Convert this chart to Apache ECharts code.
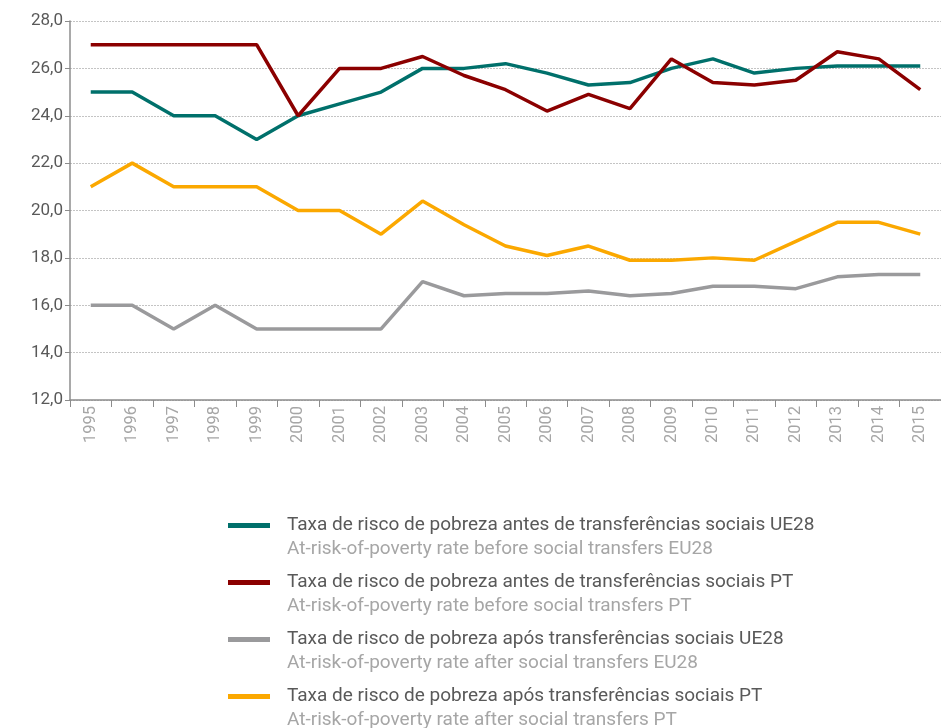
<!DOCTYPE html>
<html>
<head>
<meta charset="utf-8">
<script src="https://cdn.jsdelivr.net/npm/echarts@6/dist/echarts.min.js"></script>
<style>html,body{margin:0;padding:0;background:#fff}#c{width:941px;height:728px}</style>
</head>
<body>
<div id="c"></div>
<script>
var years = ['1995','1996','1997','1998','1999','2000','2001','2002','2003','2004','2005','2006','2007','2008','2009','2010','2011','2012','2013','2014','2015'];
var euBefore = [25,25,24,24,23,24,24.5,25,26,26,26.2,25.8,25.3,25.4,26.0,26.4,25.8,26.0,26.1,26.1,26.1];
var ptBefore = [27,27,27,27,27,24,26,26,26.5,25.7,25.1,24.2,24.9,24.3,26.4,25.4,25.3,25.5,26.7,26.4,25.1];
var euAfter = [16,16,15,16,15,15,15,15,17,16.4,16.5,16.5,16.6,16.4,16.5,16.8,16.8,16.7,17.2,17.3,17.3];
var ptAfter = [21,22,21,21,21,20,20,19,20.4,19.4,18.5,18.1,18.5,17.9,17.9,18.0,17.9,18.7,19.5,19.5,19.0];
var namesPT = ['Taxa de risco de pobreza antes de transferências sociais UE28','Taxa de risco de pobreza antes de transferências sociais PT','Taxa de risco de pobreza após transferências sociais UE28','Taxa de risco de pobreza após transferências sociais PT'];
var namesEN = ['At-risk-of-poverty rate before social transfers EU28','At-risk-of-poverty rate before social transfers PT','At-risk-of-poverty rate after social transfers EU28','At-risk-of-poverty rate after social transfers PT'];
var colors = ['#00706B','#8B0000','#9A9A9C','#FBA800'];
var seriesData = [euBefore, ptBefore, euAfter, ptAfter];

var chart = echarts.init(document.getElementById('c'));
var series = seriesData.map(function(d,i){
  return {name:namesPT[i], type:'line', data:d, symbol:'none', smooth:false,
    color:colors[i], lineStyle:{width:3.5,color:colors[i]}, z: (i===1?4:3)};
});
chart.setOption({
  animation:false,
  backgroundColor:'#fff',
  grid:{left:70,right:-9,top:21,bottom:328,containLabel:false},
  xAxis:{type:'category',data:years,boundaryGap:true,
    axisLine:{lineStyle:{color:'#8c8c8c',width:1.5}},
    axisTick:{show:true,length:7,lineStyle:{color:'#8c8c8c'}},
    axisLabel:{rotate:90,color:'#a6a6a6',fontSize:16.5,fontFamily:'Roboto',margin:6,interval:0},
    splitLine:{show:false}},
  yAxis:{type:'value',min:12,max:28,interval:2,
    axisLine:{show:true,lineStyle:{color:'#8c8c8c',width:1.5}},
    axisTick:{show:true,length:5,lineStyle:{color:'#8c8c8c'}},
    axisLabel:{color:'#595959',fontSize:17,fontFamily:'Roboto',margin:7,
      formatter:function(v){return v.toFixed(1).replace('.',',');}},
    splitLine:{show:true,lineStyle:{color:'#c4c4c4',width:1,type:[2,1]}}},
  legend:{orient:'vertical',left:228,top:516,height:300,padding:0,itemGap:14,
    icon:'rect',itemWidth:42,itemHeight:5,
    data:namesPT,
    formatter:function(n){var i=namesPT.indexOf(n);return '{a|'+n+'}\n{b|'+namesEN[i]+'}';},
    textStyle:{padding:[24,0,0,12],fontFamily:'Roboto',
      rich:{a:{fontSize:19,color:'#595959',lineHeight:24,fontFamily:'Roboto'},
            b:{fontSize:19,color:'#a6a6a6',lineHeight:24,fontFamily:'Roboto'}}}},
  series:series
});
</script>
</body>
</html>
